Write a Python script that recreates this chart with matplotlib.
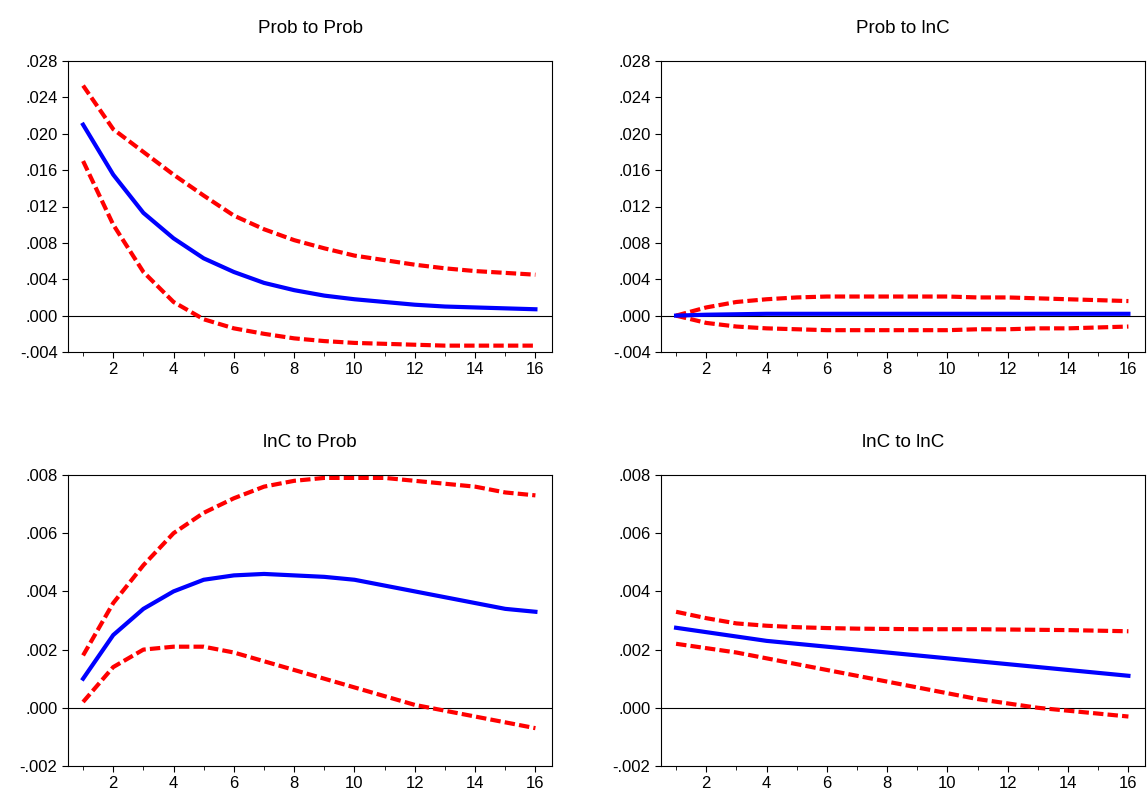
import numpy as np
import matplotlib
matplotlib.use("Agg")
import matplotlib.pyplot as plt
from matplotlib.ticker import FuncFormatter, MultipleLocator

plt.rcParams['font.family'] = ['Liberation Sans', 'DejaVu Sans']

periods = np.arange(1, 17)

# --- Prob to Prob ---
pp_mid = [0.021, 0.0155, 0.0113, 0.0085, 0.0063, 0.0048, 0.0036, 0.0028, 0.0022, 0.0018, 0.0015, 0.0012, 0.0010, 0.0009, 0.0008, 0.0007]
pp_up = [0.0253, 0.0205, 0.018, 0.0155, 0.0132, 0.011, 0.0095, 0.0083, 0.0074, 0.0066, 0.0061, 0.0056, 0.0052, 0.0049, 0.0047, 0.0045]
pp_lo = [0.017, 0.010, 0.0048, 0.0015, -0.0004, -0.0014, -0.002, -0.0025, -0.0028, -0.003, -0.0031, -0.0032, -0.0033, -0.0033, -0.0033, -0.0033]

# --- Prob to lnC ---
pc_mid = [0.0, 0.0001, 0.00015, 0.0002, 0.0002, 0.0002, 0.0002, 0.0002, 0.0002, 0.0002, 0.0002, 0.0002, 0.0002, 0.0002, 0.0002, 0.0002]
pc_up = [0.0, 0.0009, 0.0015, 0.0018, 0.002, 0.0021, 0.0021, 0.0021, 0.0021, 0.0021, 0.002, 0.002, 0.0019, 0.0018, 0.0017, 0.0016]
pc_lo = [0.0, -0.0008, -0.0012, -0.0014, -0.0015, -0.0016, -0.0016, -0.0016, -0.0016, -0.0016, -0.0015, -0.0015, -0.0014, -0.0014, -0.0013, -0.0012]

# --- lnC to Prob ---
cp_mid = [0.001, 0.0025, 0.0034, 0.004, 0.0044, 0.00455, 0.0046, 0.00455, 0.0045, 0.0044, 0.0042, 0.0040, 0.0038, 0.0036, 0.0034, 0.0033]
cp_up = [0.0018, 0.0036, 0.0049, 0.006, 0.0067, 0.0072, 0.0076, 0.0078, 0.0079, 0.0079, 0.0079, 0.0078, 0.0077, 0.0076, 0.0074, 0.0073]
cp_lo = [0.0002, 0.0014, 0.002, 0.0021, 0.0021, 0.0019, 0.0016, 0.0013, 0.001, 0.0007, 0.0004, 0.0001, -0.0001, -0.0003, -0.0005, -0.0007]

# --- lnC to lnC ---
cc_mid = [0.00275, 0.0026, 0.00245, 0.0023, 0.0022, 0.0021, 0.0020, 0.0019, 0.0018, 0.0017, 0.0016, 0.0015, 0.0014, 0.0013, 0.0012, 0.0011]
cc_up = [0.0033, 0.00308, 0.0029, 0.00282, 0.00277, 0.00274, 0.00272, 0.00271, 0.0027, 0.0027, 0.0027, 0.00269, 0.00268, 0.00267, 0.00265, 0.00263]
cc_lo = [0.0022, 0.00205, 0.0019, 0.0017, 0.0015, 0.0013, 0.0011, 0.0009, 0.0007, 0.0005, 0.0003, 0.00015, 0.0, -0.0001, -0.0002, -0.0003]

panels = [
    ("Prob to Prob", pp_mid, pp_up, pp_lo, (-0.004, 0.028), 0.004),
    ("Prob to lnC", pc_mid, pc_up, pc_lo, (-0.004, 0.028), 0.004),
    ("lnC to Prob", cp_mid, cp_up, cp_lo, (-0.002, 0.008), 0.002),
    ("lnC to lnC", cc_mid, cc_up, cc_lo, (-0.002, 0.008), 0.002),
]


def fmt(v, pos):
    s = f"{v:.3f}"
    return s.replace("0.", ".", 1)


fig = plt.figure(figsize=(11.47, 7.94), dpi=100)
boxes = [(68, 61), (661, 61), (68, 475), (661, 475)]
W, H = 1147, 794
for (title, mid, up, lo, ylim, step), (x0, y0) in zip(panels, boxes):
    ax = fig.add_axes([x0 / W, 1 - (y0 + 291) / H, 484 / W, 291 / H])
    ax.axhline(0, color='black', lw=0.8)
    ax.plot(periods, up, color='red', lw=3, ls=(0, (2.5, 1)))
    ax.plot(periods, lo, color='red', lw=3, ls=(0, (2.5, 1)))
    ax.plot(periods, mid, color='blue', lw=3)
    ax.set_xlim(0.5, 16.55)
    ax.set_ylim(*ylim)
    ax.xaxis.set_major_locator(MultipleLocator(2))
    ax.xaxis.set_minor_locator(MultipleLocator(1))
    ax.yaxis.set_major_locator(MultipleLocator(step))
    ax.yaxis.set_major_formatter(FuncFormatter(fmt))
    ax.tick_params(labelsize=12, direction='out', length=4, width=0.8)
    ax.tick_params(which='minor', direction='out', length=3)
    ax.set_title(title, fontsize=13.5, pad=20)
    for sp in ax.spines.values():
        sp.set_linewidth(0.8)

fig.savefig("out.png", dpi=100)
